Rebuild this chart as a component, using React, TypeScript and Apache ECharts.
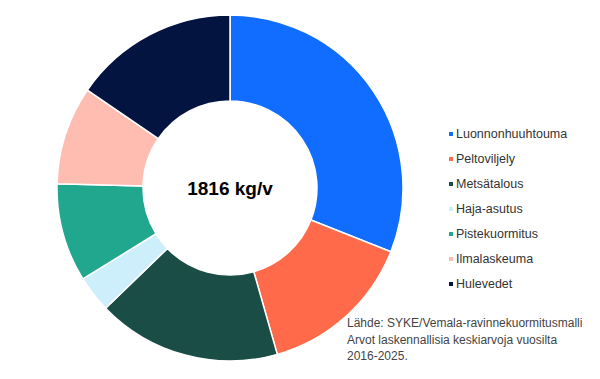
import React, { useEffect, useRef } from "react";
import * as echarts from "echarts";

const categories = [
  "Luonnonhuuhtouma",
  "Peltoviljely",
  "Metsätalous",
  "Haja-asutus",
  "Pistekuormitus",
  "Ilmalaskeuma",
  "Hulevedet",
];
const values = [563, 265, 312, 62, 167, 167, 280];
const colors = ["#116DFF", "#FF6B4A", "#1B4D47", "#CDEEFB", "#22A78F", "#FFBDB2", "#041441"];
const totalLabel = "1816 kg/v";
const sourceLines = [
  "Lähde: SYKE/Vemala-ravinnekuormitusmalli",
  "Arvot laskennallisia keskiarvoja vuosilta",
  "2016-2025.",
];

export default function App() {
  const ref = useRef<HTMLDivElement>(null);
  useEffect(() => {
    if (!ref.current) return;
    const chart = echarts.init(ref.current, null, { renderer: "svg" });
    chart.setOption({
      animation: false,
      color: colors,
      legend: {
        orient: "vertical",
        left: 442,
        top: 122,
        icon: "rect",
        itemWidth: 6,
        itemHeight: 6,
        itemGap: 11,
        textStyle: { fontSize: 12.5, lineHeight: 14, color: "#333", fontFamily: "Liberation Sans", padding: [0, 0, 0, -3] },
        data: categories,
      },
      graphic: [
        {
          type: "text",
          x: 230,
          y: 188,
          style: {
            text: totalLabel,
            fontSize: 19,
            fontWeight: "bold",
            fill: "#000",
            align: "center",
            verticalAlign: "middle",
            fontFamily: "Liberation Sans",
          },
        },
        {
          type: "text",
          left: 347,
          top: 315,
          style: {
            text: sourceLines.join("\n"),
            fontSize: 12,
            lineHeight: 16.5,
            fill: "#444",
            fontFamily: "Liberation Sans",
          },
        },
      ],
      series: [
        {
          type: "pie",
          center: [230, 188],
          radius: [87, 173],
          startAngle: 90,
          clockwise: true,
          label: { show: false },
          labelLine: { show: false },
          itemStyle: { borderColor: "#fff", borderWidth: 1.5 },
          emphasis: { disabled: true },
          data: categories.map((name, i) => ({ name, value: values[i] })),
        },
      ],
    });
    return () => chart.dispose();
  }, []);
  return <div ref={ref} style={{ width: 600, height: 379, position: "absolute", left: 0, top: 0, background: "#fff" }} />;
}
